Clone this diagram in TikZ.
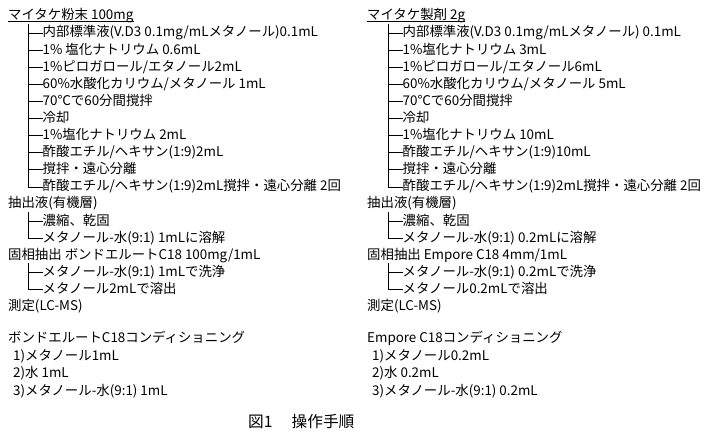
\documentclass[tikz,border=0pt]{standalone}
\usepackage{fontspec}
\setmainfont{Noto Sans CJK JP}
\newcommand{\fsz}{\fontsize{13.4pt}{15pt}\selectfont}
\newcommand{\fcap}{\fontsize{15.7pt}{17pt}\selectfont}
\begin{document}
\begin{tikzpicture}[x=1pt,y=1pt,
  txt/.style={anchor=west, inner sep=0pt, text height=0.88em, text depth=0.12em, font=\fsz},
  captxt/.style={anchor=west, inner sep=0pt, text height=0.88em, text depth=0.12em, font=\fcap},
  ln/.style={line width=0.9pt, black}]
\fill[white] (0,0) rectangle (728,-440);
\useasboundingbox (0,0) rectangle (728,-440);
% ---------------- left column ----------------
\node[txt] (lt)  at (8,-16) {マイタケ粉末 100mg};
\node[txt] (l1)  at (42.5,-33.1) {内部標準液(V.D3 0.1mg/mLメタノール)0.1mL};
\node[txt] (l2)  at (42.5,-50.2) {1\% 塩化ナトリウム 0.6mL};
\node[txt] (l3)  at (42.5,-67.3) {1\%ピロガロール/エタノール2mL};
\node[txt] (l4)  at (42.5,-84.4) {60\%水酸化カリウム/メタノール 1mL};
\node[txt] (l5)  at (42.5,-101.5) {70℃で60分間撹拌};
\node[txt] (l6)  at (42.5,-118.6) {冷却};
\node[txt] (l7)  at (42.5,-135.7) {1\%塩化ナトリウム 2mL};
\node[txt] (l8)  at (42.5,-152.8) {酢酸エチル/ヘキサン(1:9)2mL};
\node[txt] (l9)  at (42.5,-169.9) {撹拌・遠心分離};
\node[txt] (l10) at (42.5,-187.0) {酢酸エチル/ヘキサン(1:9)2mL撹拌・遠心分離 2回};
\node[txt] (l11) at (8,-204.1) {抽出液(有機層)};
\node[txt] (l12) at (42.5,-221.2) {濃縮、乾固};
\node[txt] (l13) at (42.5,-238.3) {メタノール-水(9:1) 1mLに溶解};
\node[txt] (l14) at (8,-255.4) {固相抽出 ボンドエルートC18 100mg/1mL};
\node[txt] (l15) at (42.5,-272.5) {メタノール-水(9:1) 1mLで洗浄};
\node[txt] (l16) at (42.5,-289.6) {メタノール2mLで溶出};
\node[txt] (l17) at (8,-306.7) {測定(LC-MS)};
\node[txt] (lc0) at (8,-339) {ボンドエルートC18コンディショニング};
\node[txt] (lc1) at (13,-356.5) {1)メタノール1mL};
\node[txt] (lc2) at (13,-374) {2)水 1mL};
\node[txt] (lc3) at (13,-391.5) {3)メタノール-水(9:1) 1mL};
\draw[ln] (lt.south west) -- (lt.south east);
\coordinate (la) at (28,-24);
\draw[ln] (la) -- (la |- l10.west);
\foreach \n in {l1,l2,l3,l4,l5,l6,l7,l8,l9,l10}
  \draw[ln] (la |- \n.west) -- (\n.west);
\coordinate (lb) at (28,-212);
\draw[ln] (lb) -- (lb |- l13.west);
\foreach \n in {l12,l13}
  \draw[ln] (lb |- \n.west) -- (\n.west);
\coordinate (lcx) at (28,-263);
\draw[ln] (lcx) -- (lcx |- l16.west);
\foreach \n in {l15,l16}
  \draw[ln] (lcx |- \n.west) -- (\n.west);
% ---------------- right column ----------------
\node[txt] (rt)  at (367,-16) {マイタケ製剤 2g};
\node[txt] (r1)  at (402.5,-33.1) {内部標準液(V.D3 0.1mg/mLメタノール) 0.1mL};
\node[txt] (r2)  at (402.5,-50.2) {1\%塩化ナトリウム 3mL};
\node[txt] (r3)  at (402.5,-67.3) {1\%ピロガロール/エタノール6mL};
\node[txt] (r4)  at (402.5,-84.4) {60\%水酸化カリウム/メタノール 5mL};
\node[txt] (r5)  at (402.5,-101.5) {70℃で60分間撹拌};
\node[txt] (r6)  at (402.5,-118.6) {冷却};
\node[txt] (r7)  at (402.5,-135.7) {1\%塩化ナトリウム 10mL};
\node[txt] (r8)  at (402.5,-152.8) {酢酸エチル/ヘキサン(1:9)10mL};
\node[txt] (r9)  at (402.5,-169.9) {撹拌・遠心分離};
\node[txt] (r10) at (402.5,-187.0) {酢酸エチル/ヘキサン(1:9)2mL撹拌・遠心分離 2回};
\node[txt] (r11) at (367,-204.1) {抽出液(有機層)};
\node[txt] (r12) at (402.5,-221.2) {濃縮、乾固};
\node[txt] (r13) at (402.5,-238.3) {メタノール-水(9:1) 0.2mLに溶解};
\node[txt] (r14) at (367,-255.4) {固相抽出 Empore C18 4mm/1mL};
\node[txt] (r15) at (402.5,-272.5) {メタノール-水(9:1) 0.2mLで洗浄};
\node[txt] (r16) at (402.5,-289.6) {メタノール0.2mLで溶出};
\node[txt] (r17) at (367,-306.7) {測定(LC-MS)};
\node[txt] (rc0) at (367,-339) {Empore C18コンディショニング};
\node[txt] (rc1) at (372,-356.5) {1)メタノール0.2mL};
\node[txt] (rc2) at (372,-374) {2)水 0.2mL};
\node[txt] (rc3) at (372,-391.5) {3)メタノール-水(9:1) 0.2mL};
\draw[ln] (rt.south west) -- (rt.south east);
\coordinate (ra) at (388,-24);
\draw[ln] (ra) -- (ra |- r10.west);
\foreach \n in {r1,r2,r3,r4,r5,r6,r7,r8,r9,r10}
  \draw[ln] (ra |- \n.west) -- (\n.west);
\coordinate (rb) at (388,-212);
\draw[ln] (rb) -- (rb |- r13.west);
\foreach \n in {r12,r13}
  \draw[ln] (rb |- \n.west) -- (\n.west);
\coordinate (rcx) at (388,-263);
\draw[ln] (rcx) -- (rcx |- r16.west);
\foreach \n in {r15,r16}
  \draw[ln] (rcx |- \n.west) -- (\n.west);
% ---------------- caption ----------------
\node[captxt] (capt) at (248,-424) {図1\hspace{19pt}操作手順};
\end{tikzpicture}
\end{document}
